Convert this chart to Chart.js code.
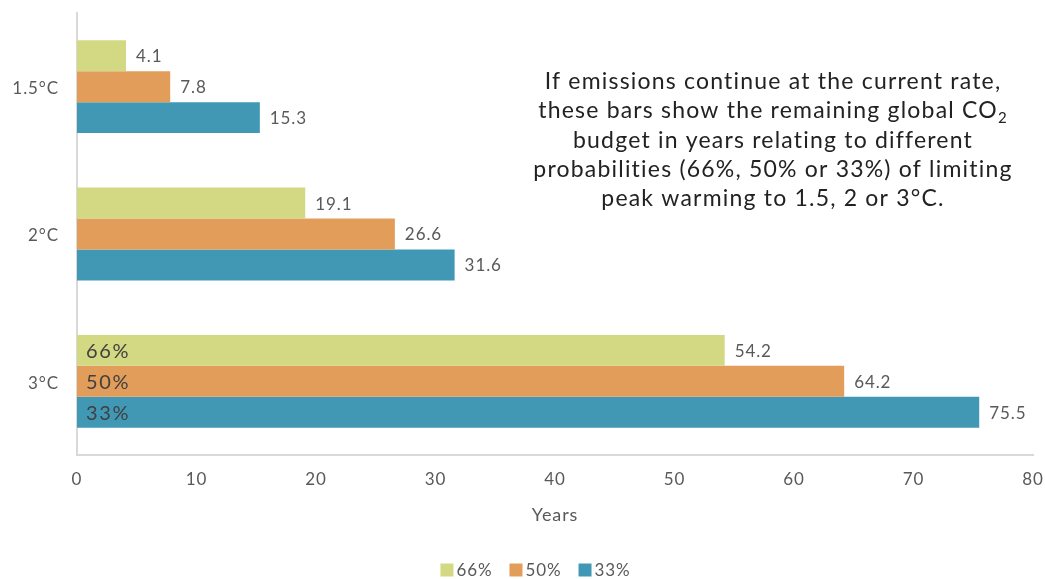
<!DOCTYPE html>
<html>
<head>
<meta charset="utf-8">
<script src="https://cdn.jsdelivr.net/npm/chart.js@4"></script>
<style>
  html, body { margin: 0; padding: 0; background: #fff; }
  #wrap { width: 1045px; height: 579px; position: relative; }
</style>
</head>
<body>
<div id="wrap"><canvas id="budgetChart" width="1045" height="579"></canvas></div>
<script>
const categories = ['1.5°C', '2°C', '3°C'];
const seriesNames = ['66%', '50%', '33%'];
const p66 = [4.1, 19.1, 54.2];
const p50 = [7.8, 26.6, 64.2];
const p33 = [15.3, 31.6, 75.5];
const xMax = 80;
const xStep = 10;
const xTitle = 'Years';
const noteLines = [
  'If emissions continue at the current rate,',
  'these bars show the remaining global CO|2',
  'budget in years relating to different',
  'probabilities (66%, 50% or 33%) of limiting',
  'peak warming to 1.5, 2 or 3°C.'
];

const colors = ['#D3D883', '#E39D5B', '#4198B5'];
const fontFamily = 'Lato, "Open Sans", sans-serif';
const grey = '#595959';

// wider tracking so Lato gets closer to the original typeface
const spacing = {
  id: 'spacing',
  beforeUpdate(chart) { chart.ctx.letterSpacing = '0.9px'; },
  beforeDraw(chart) { chart.ctx.letterSpacing = '0.9px'; }
};

// value labels at bar ends + series names inside the last group
const barLabels = {
  id: 'barLabels',
  afterDatasetsDraw(chart) {
    const ctx = chart.ctx;
    ctx.save();
    ctx.textBaseline = 'middle';
    ctx.textAlign = 'left';
    chart.data.datasets.forEach((ds, i) => {
      const meta = chart.getDatasetMeta(i);
      meta.data.forEach((bar, j) => {
        ctx.font = '17px ' + fontFamily;
        ctx.letterSpacing = '0.9px';
        ctx.fillStyle = grey;
        ctx.fillText(ds.data[j].toFixed(1), bar.x + 10, bar.y + 1);
        if (j === categories.length - 1) {
          ctx.font = '20px ' + fontFamily;
          ctx.letterSpacing = '1.6px';
          ctx.fillStyle = '#404040';
          ctx.fillText(ds.label, bar.base + 9, bar.y + 1);
        }
      });
    });
    ctx.restore();
  }
};

const note = {
  id: 'note',
  afterDraw(chart) {
    const ctx = chart.ctx;
    ctx.save();
    ctx.fillStyle = '#222';
    ctx.textBaseline = 'middle';
    ctx.letterSpacing = '1.2px';
    const cx = 773;
    noteLines.forEach((line, k) => {
      const y = 81.5 + k * 29.3;
      const parts = line.split('|');
      ctx.font = '23px ' + fontFamily;
      if (parts.length === 1) {
        ctx.textAlign = 'center';
        ctx.fillText(line, cx, y);
      } else {
        const w1 = ctx.measureText(parts[0]).width;
        ctx.font = '15px ' + fontFamily;
        const w2 = ctx.measureText(parts[1]).width;
        const x0 = cx - (w1 + w2) / 2;
        ctx.textAlign = 'left';
        ctx.font = '23px ' + fontFamily;
        ctx.fillText(parts[0], x0, y);
        ctx.font = '15px ' + fontFamily;
        ctx.fillText(parts[1], x0 + w1, y + 7);
      }
    });
    ctx.restore();
  }
};

// legend drawn by hand so the swatch sits close to its text
const bottomLegend = {
  id: 'bottomLegend',
  afterDraw(chart) {
    const ctx = chart.ctx;
    ctx.save();
    ctx.font = '17px ' + fontFamily;
    ctx.letterSpacing = '0.9px';
    ctx.textBaseline = 'middle';
    ctx.textAlign = 'left';
    const box = 13, gapText = 3, gapItem = 17;
    const items = chart.data.datasets.map(ds => ({ label: ds.label, color: ds.backgroundColor, w: ctx.measureText(ds.label).width }));
    const total = items.reduce((a, it) => a + box + gapText + it.w, 0) + gapItem * (items.length - 1);
    let x = chart.width / 2 + 13 - total / 2;
    const y = 570;
    items.forEach(it => {
      ctx.fillStyle = it.color;
      ctx.fillRect(x, y - box / 2, box, box);
      ctx.fillStyle = grey;
      ctx.fillText(it.label, x + box + gapText, y + 1);
      x += box + gapText + it.w + gapItem;
    });
    ctx.restore();
  }
};

new Chart(document.getElementById('budgetChart').getContext('2d'), {
  type: 'bar',
  data: {
    labels: categories,
    datasets: [
      { label: seriesNames[0], data: p66, backgroundColor: colors[0] },
      { label: seriesNames[1], data: p50, backgroundColor: colors[1] },
      { label: seriesNames[2], data: p33, backgroundColor: colors[2] }
    ]
  },
  options: {
    indexAxis: 'y',
    responsive: false,
    animation: false,
    devicePixelRatio: 1,
    datasets: {
      bar: { categoryPercentage: 0.63, barPercentage: 1.0, borderWidth: 0 }
    },
    layout: { padding: { top: 13, right: 12, left: 0, bottom: 49 } },
    scales: {
      x: {
        min: 0,
        max: xMax,
        ticks: { stepSize: xStep, color: grey, font: { family: fontFamily, size: 17 }, padding: 14 },
        grid: { display: false, drawTicks: false },
        border: { color: '#D9D9D9', width: 2 },
        title: { display: true, text: xTitle, color: grey, font: { family: fontFamily, size: 18 }, padding: { top: 4, bottom: 4 } },
        afterFit(axis) { axis.height = 75; axis.paddingLeft = 0; axis.paddingRight = 0; }
      },
      y: {
        ticks: { color: grey, font: { family: fontFamily, size: 17 }, padding: 18, labelOffset: 2 },
        grid: { display: false, drawTicks: false },
        border: { color: '#D9D9D9', width: 2 },
        afterFit(axis) { axis.width = 77; axis.paddingTop = 0; axis.paddingBottom = 0; }
      }
    },
    plugins: {
      legend: { display: false },
      tooltip: { enabled: false }
    }
  },
  plugins: [spacing, barLabels, note, bottomLegend]
});
</script>
</body>
</html>
